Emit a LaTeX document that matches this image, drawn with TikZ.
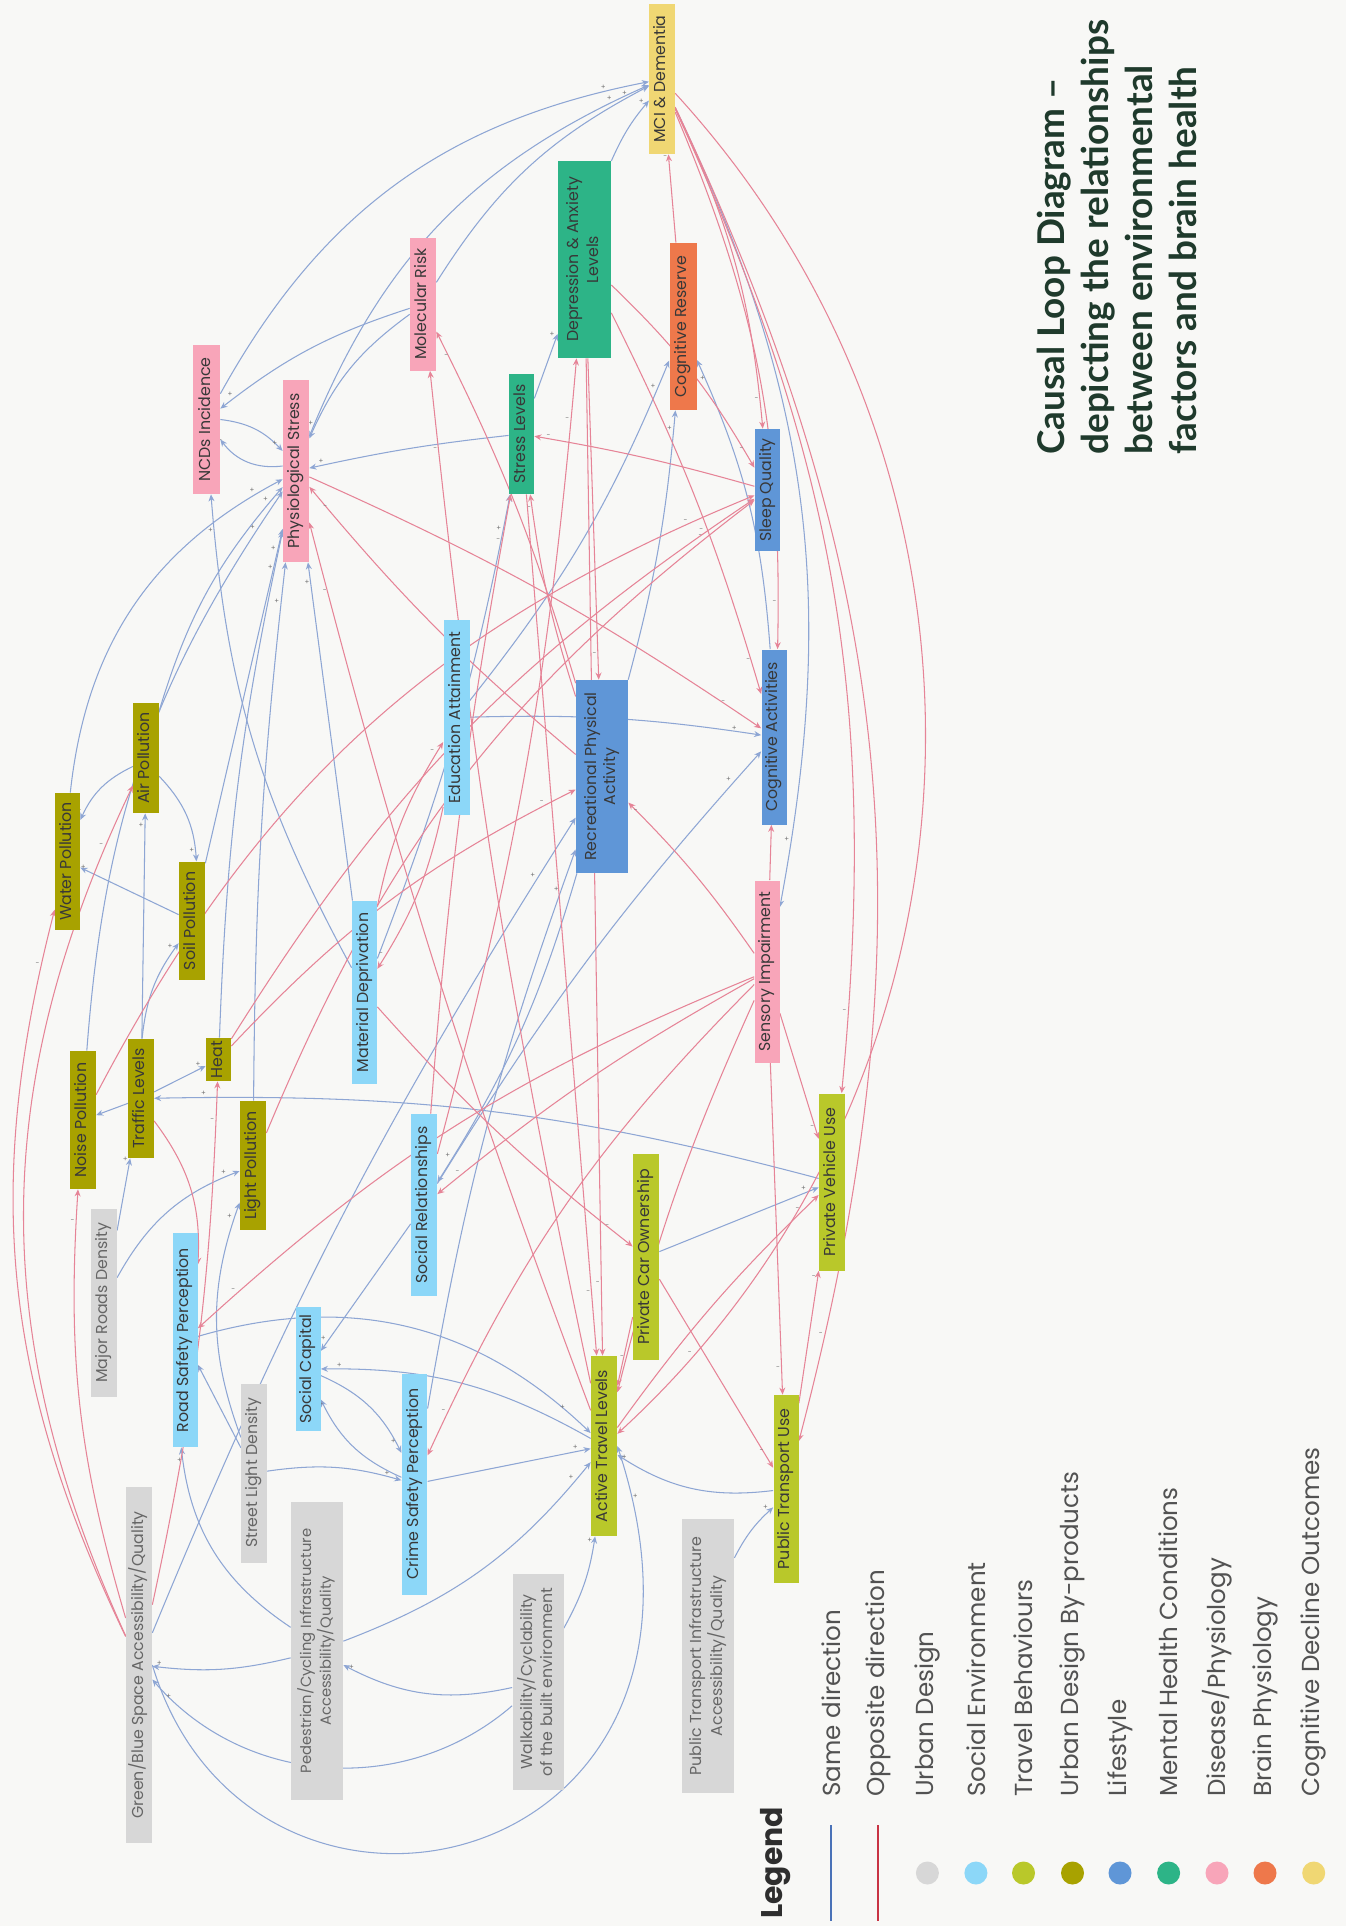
\documentclass[tikz,border=0pt]{standalone}
\usepackage{fontspec}
\setmainfont{Poppins}
\newfontfamily\titlefont{Lato}
\usepackage{graphicx}
\usetikzlibrary{arrows.meta}
\pgfdeclarelayer{bg}
\pgfsetlayers{bg,main}

\definecolor{bgC}{HTML}{F8F8F6}
\definecolor{udC}{HTML}{D7D7D7}
\definecolor{seC}{HTML}{8CD7F8}
\definecolor{tbC}{HTML}{B9C82A}
\definecolor{bpC}{HTML}{A8A200}
\definecolor{lsC}{HTML}{5F96D7}
\definecolor{mhC}{HTML}{2DB487}
\definecolor{dpC}{HTML}{F8A5B9}
\definecolor{brC}{HTML}{EE784B}
\definecolor{cdC}{HTML}{F0D773}
\definecolor{sameC}{HTML}{8EA6D4}
\definecolor{oppC}{HTML}{E68497}
\definecolor{sameL}{HTML}{4A72B8}
\definecolor{oppL}{HTML}{C83444}
\definecolor{titleC}{HTML}{1F3A2C}

\newcommand{\rot}[1]{\rotatebox{90}{\begin{tabular}{@{}c@{}}#1\end{tabular}}}

\begin{document}
\begin{tikzpicture}[
  x=0.02cm, y=-0.02cm,
  font=\fontsize{9}{11}\selectfont,
  box/.style={fill=#1, inner sep=0pt, text=black!78},
  grey/.style={fill=udC, inner sep=0pt, text=black!60},
  sz/.style 2 args={minimum width=#1*0.02cm, minimum height=#2*0.02cm},
  sgn/.style={font=\fontsize{4}{4}\selectfont, text=black!55, inner sep=0.6pt},
  same/.style={draw=sameC, line width=0.6pt, -{Stealth[length=4pt,width=3.4pt]},
    every to/.append style={edge node={node[sgn, pos=0.93, above left]{+}}}},
  opp/.style={draw=oppC, line width=0.6pt, -{Stealth[length=4pt,width=3.4pt]},
    every to/.append style={edge node={node[sgn, pos=0.93, above left]{-}}}},
  legtxt/.style={rotate=90, anchor=west, inner sep=0pt, text=black!68, font=\fontsize{14}{16}\selectfont},
  dot/.style={circle, inner sep=0pt, minimum size=0.46cm}
]
\begin{pgfonlayer}{bg}
\fill[bgC] (0,0) rectangle (1346,1926);
\end{pgfonlayer}
\useasboundingbox (0,0) rectangle (1346,1926);

% outcomes and physiology
\node[box=cdC, sz={25.5}{150}] (mci) at (662,79) {\rot{MCI \& Dementia}};
\node[box=mhC, sz={53}{197}] (dep) at (584.5,259.5) {\rot{Depression \& Anxiety\\Levels}};
\node[box=brC, sz={27}{167}] (cres) at (683,326.5) {\rot{Cognitive Reserve}};
\node[box=dpC, sz={26}{133}] (molr) at (423,304) {\rot{Molecular Risk}};
\node[box=dpC, sz={27}{149}] (ncd) at (206.5,419.5) {\rot{NCDs Incidence}};
\node[box=dpC, sz={26}{182}] (phys) at (296,471) {\rot{Physiological Stress}};
\node[box=mhC, sz={25}{120}] (stress) at (521.5,434) {\rot{Stress Levels}};
\node[box=lsC, sz={25.5}{122}] (sleep) at (767.5,490) {\rot{Sleep Quality}};
\node[box=seC, sz={26}{195}] (edu) at (456.5,717.5) {\rot{Education Attainment}};
\node[box=lsC, sz={52}{193}] (rpa) at (602,776.5) {\rot{Recreational Physical\\Activity}};
\node[box=lsC, sz={25}{175}] (cact) at (774,737) {\rot{Cognitive Activities}};
\node[box=dpC, sz={25}{182}] (sens) at (767,971.5) {\rot{Sensory Impairment}};
\node[box=seC, sz={25}{183}] (matd) at (364.5,992.5) {\rot{Material Deprivation}};
\node[box=seC, sz={26}{182}] (socr) at (424,1205) {\rot{Social Relationships}};

% travel
\node[box=tbC, sz={26}{177}] (pvu) at (832,1182) {\rot{Private Vehicle Use}};
\node[box=tbC, sz={26}{206}] (pco) at (646,1257) {\rot{Private Car Ownership}};
\node[box=tbC, sz={26}{180}] (atl) at (604,1446) {\rot{Active Travel Levels}};
\node[box=tbC, sz={25}{188}] (ptu) at (786,1489) {\rot{Public Transport Use}};

% urban design
\node[grey, sz={52}{274}] (pti) at (708,1656) {\rot{Public Transport Infrastructure\\Accessibility/Quality}};
\node[grey, sz={51}{216}] (walk) at (538,1682) {\rot{Walkability/Cyclability\\of the built environment}};
\node[grey, sz={52}{298}, font=\fontsize{8.4}{11}\selectfont] (ped) at (317,1651) {\rot{Pedestrian/Cycling Infrastructure\\Accessibility/Quality}};
\node[grey, sz={25.5}{179}] (sld) at (254,1473) {\rot{Street Light Density}};
\node[grey, sz={25.5}{188}] (mrd) at (104,1303) {\rot{Major Roads Density}};
\node[grey, sz={26}{356}] (gbs) at (139,1665) {\rot{Green/Blue Space Accessibility/Quality}};
\node[box=seC, sz={25.5}{221}] (crime) at (414.5,1484) {\rot{Crime Safety Perception}};
\node[box=seC, sz={25}{124}] (scap) at (308,1369) {\rot{Social Capital}};
\node[box=seC, sz={25}{214}] (rsp) at (185,1340) {\rot{Road Safety Perception}};

% by-products
\node[box=bpC, sz={25.5}{138}] (noise) at (83,1120) {\rot{Noise Pollution}};
\node[box=bpC, sz={25.5}{119}] (traffic) at (141,1098.5) {\rot{Traffic Levels}};
\node[box=bpC, sz={25}{43}] (heat) at (218.5,1059.5) {\rot{Heat}};
\node[box=bpC, sz={26}{129}] (lightp) at (253,1165.5) {\rot{Light Pollution}};
\node[box=bpC, sz={25}{137}] (water) at (67.5,861.5) {\rot{Water Pollution}};
\node[box=bpC, sz={25.5}{110}] (air) at (146,758) {\rot{Air Pollution}};
\node[box=bpC, sz={26}{118.5}] (soil) at (192,921) {\rot{Soil Pollution}};

\begin{pgfonlayer}{bg}
% same direction
\draw[same] (ncd) to[bend left=25] (mci);
\draw[same] (phys) to[bend left=22] (mci);
\draw[same] (molr) to[bend left=15] (mci);
\draw[same] (dep) to[bend left=8] (mci);
\draw[same] (molr) to[bend right=10] (ncd);
\draw[same] (ncd.east) to[bend left=20] ([yshift=0.4cm]phys.west);
\draw[same] ([yshift=0.1cm]phys.west) to[bend left=30] ([yshift=-0.4cm]ncd.east);
\draw[same] (molr) to[bend right=15] (phys);
\draw[same] (stress) to[bend right=3] (phys);
\draw[same] (stress) to (dep);
\draw[same] (water) to[bend left=28] (phys);
\draw[same] (air) to[bend left=12] (phys);
\draw[same] (noise) to[bend left=15] (phys);
\draw[same] (heat) to[bend left=5] (phys);
\draw[same] (soil) to (phys);
\draw[same] (lightp) to[bend left=3] (phys);
\draw[same] (matd) to[bend left=12] (ncd);
\draw[same] (matd) to[bend right=5] (stress);
\draw[same] (matd) to (phys);
\draw[same] (edu) to[bend right=8] (cres);
\draw[same] (edu) to[bend left=5] (cact);
\draw[same] (rpa) to[bend right=5] (cres);
\draw[same] (cact) to[bend right=10] (cres);
\draw[same] (mci) to[bend left=18] (sens);
\draw[same] (rpa) to[bend left=8] (socr);
\draw[same] (socr) to[bend left=5] (cact);
\draw[same] (gbs) to[bend left=5] (rpa);
\draw[same] (crime) to[bend left=5] (rpa);
\draw[same] (pco) to (pvu);
\draw[same] (pvu) to[bend right=8] (traffic);
\draw[same] (ptu) to[bend left=20] (atl);
\draw[same] (pti) to[bend left=10] (ptu);
\draw[same] (rsp) to[bend left=30] (atl);
\draw[same] (crime) to (atl);
\draw[same] (ped) to[bend right=15] (atl);
\draw[same] (walk) to[bend right=10] (atl);
\draw[same] (gbs.east) .. controls (250,1990) and (760,1880) .. node[sgn, pos=0.96, right]{+} (atl.east);
\draw[same] (walk) to[bend left=45] (gbs);
\draw[same] (walk) to[bend left=20] (ped);
\draw[same] (ped) to[bend left=10] (gbs);
\draw[same] (ped) to[bend left=25] (rsp);
\draw[same] (sld) to (rsp);
\draw[same] (sld) to[bend left=12] (crime);
\draw[same] (sld) to[bend left=20] (lightp);
\draw[same] (mrd) to[bend left=20] (lightp);
\draw[same] (scap) to[bend left=20] (crime);
\draw[same] (crime) to[bend left=20] (scap);
\draw[same] (atl) to[bend right=15] (scap);
\draw[same] (socr) to (scap);
\draw[same] (traffic) to (air);
\draw[same] (traffic) to[bend left=15] (soil);
\draw[same] (traffic) to (heat);
\draw[same] (traffic) to (noise);
\draw[same] (mrd) to (traffic);
\draw[same] (air) to[bend left=20] (soil);
\draw[same] (air) to[bend right=20] (water);
\draw[same] (soil) to (water);

% opposite direction
\draw[opp] (cres) to (mci);
\draw[opp] (mci) to[bend left=10] (sleep);
\draw[opp] (mci) to[bend left=12] (cact);
\draw[opp] (mci) to[bend left=15] (pvu);
\draw[opp] (mci) to[bend left=20] (ptu);
\draw[opp] (mci) to[bend left=45] (atl);
\draw[opp] (sleep) to[bend right=3] (stress);
\draw[opp] (dep) to[bend left=8] (sleep);
\draw[opp] (noise) to[bend left=20] (sleep);
\draw[opp] (lightp) to[bend left=15] (sleep);
\draw[opp] (heat) to[bend left=12] (sleep);
\draw[opp] (rpa) to[bend left=5] (stress);
\draw[opp] (socr) to[bend left=3] (stress);
\draw[opp] (socr) to[bend right=5] (dep);
\draw[opp] (dep) to (rpa);
\draw[opp] (dep) to[bend left=5] (cact);
\draw[opp] (rpa) to[bend right=5] (molr);
\draw[opp] (atl) to[bend left=3] (molr);
\draw[opp] (atl) to[bend left=3] (phys);
\draw[opp] (rpa) to[bend left=5] (phys);
\draw[opp] (heat) to[bend left=10] (rpa);
\draw[opp] (sens) to[bend right=5] (rpa);
\draw[opp] (sens) to (cact);
\draw[opp] (phys) to[bend left=5] (cact);
\draw[opp] (sens) to[bend right=5] (socr);
\draw[opp] (sens) to[bend right=5] (atl);
\draw[opp] (sens) to (ptu);
\draw[opp] (sens) to (pvu);
\draw[opp] (sens) to[bend right=10] (crime);
\draw[opp] (sens) to[bend right=10] (rsp);
\draw[opp] (pco) to (atl);
\draw[opp] (pco) to (ptu);
\draw[opp] (ptu) to (pvu);
\draw[opp] (atl) to[bend left=5] (pvu);
\draw[opp] (edu) to[bend left=10] (matd);
\draw[opp] (matd) to[bend left=10] (edu);
\draw[opp] (matd) to[bend right=5] (pco);
\draw[opp] (traffic) to[bend left=20] (rsp);
\draw[opp] (gbs) to[bend left=20] (water);
\draw[opp] (gbs) to[bend left=25] (air);
\draw[opp] (gbs) to[bend left=10] (noise);
\draw[opp] (gbs) to[bend right=5] (heat);
\draw[opp] (dep) to (atl);
\draw[opp] (stress) to (atl);
\end{pgfonlayer}

% title
\node[rotate=90, anchor=north west, align=left, inner sep=0pt, text=titleC,
  font=\titlefont\bfseries\fontsize{21}{25}\selectfont] (title) at (1037,455)
  {Causal Loop Diagram –\\depicting the relationships\\between environmental\\factors and brain health};

% legend
\node[rotate=90, anchor=west, inner sep=0pt, text=black!82, font=\bfseries\fontsize{17}{19}\selectfont] (legend) at (776,1919) {Legend};
\draw[sameL, line width=1.3pt] (830.8,1825) -- (830.8,1921);
\draw[oppL, line width=1.3pt] (878.3,1825) -- (878.3,1921);
\node[legtxt] (lsame) at (830.8,1797) {Same direction};
\node[legtxt] (lopp) at (878.3,1797) {Opposite direction};
\foreach \xx/\col/\lab [count=\i] in {927.4/udC/{Urban Design}, 975.9/seC/{Social Environment},
    1023.5/tbC/{Travel Behaviours}, 1072.5/bpC/{Urban Design By-products}, 1120/lsC/{Lifestyle},
    1168.6/mhC/{Mental Health Conditions}, 1217/dpC/{Disease/Physiology},
    1265/brC/{Brain Physiology}, 1313.7/cdC/{Cognitive Decline Outcomes}} {
  \node[dot, fill=\col] (dot\i) at (\xx,1873) {};
  \node[legtxt] (cat\i) at (\xx,1797) {\lab};
}
\end{tikzpicture}
\end{document}
